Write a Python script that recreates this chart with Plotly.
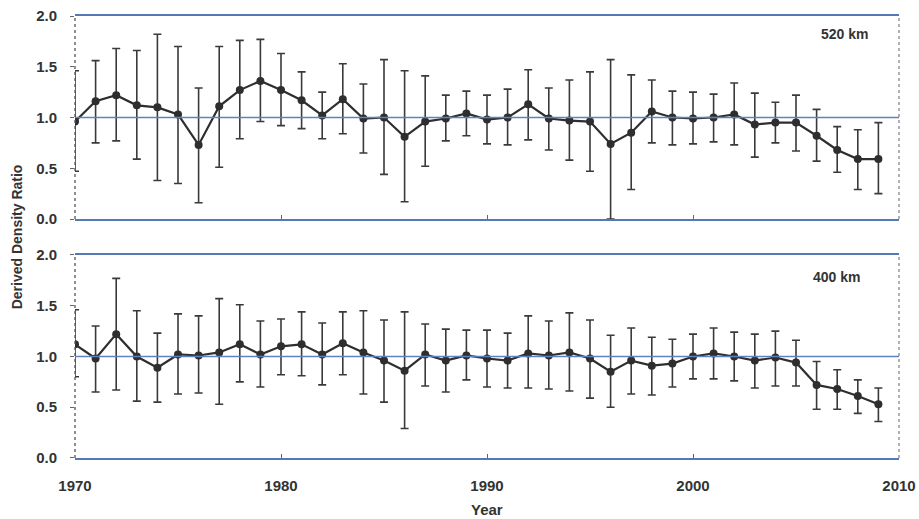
import plotly.graph_objects as go

years = list(range(1970, 2010))

# 520 km panel
top_val = [0.96, 1.16, 1.22, 1.12, 1.10, 1.03, 0.73, 1.11, 1.27, 1.36,
           1.27, 1.17, 1.02, 1.18, 0.99, 1.00, 0.81, 0.96, 0.99, 1.04,
           0.98, 1.00, 1.13, 0.99, 0.97, 0.96, 0.74, 0.85, 1.06, 1.00,
           0.99, 1.00, 1.03, 0.93, 0.95, 0.95, 0.82, 0.68, 0.59, 0.59]
top_hi = [1.46, 1.56, 1.68, 1.66, 1.82, 1.70, 1.29, 1.70, 1.76, 1.77,
          1.63, 1.45, 1.25, 1.53, 1.33, 1.57, 1.46, 1.41, 1.22, 1.26,
          1.22, 1.28, 1.47, 1.29, 1.37, 1.45, 1.57, 1.42, 1.37, 1.26,
          1.25, 1.23, 1.34, 1.24, 1.15, 1.22, 1.08, 0.91, 0.88, 0.95]
top_lo = [0.47, 0.75, 0.77, 0.59, 0.38, 0.35, 0.16, 0.51, 0.79, 0.96,
          0.92, 0.89, 0.79, 0.84, 0.65, 0.44, 0.17, 0.52, 0.77, 0.82,
          0.74, 0.73, 0.78, 0.68, 0.58, 0.47, 0.00, 0.29, 0.75, 0.73,
          0.74, 0.76, 0.73, 0.61, 0.75, 0.67, 0.57, 0.46, 0.29, 0.25]

# 400 km panel
bot_val = [1.12, 0.98, 1.22, 1.00, 0.89, 1.02, 1.01, 1.04, 1.12, 1.02,
           1.10, 1.12, 1.02, 1.13, 1.04, 0.96, 0.86, 1.02, 0.96, 1.01,
           0.98, 0.96, 1.03, 1.01, 1.04, 0.98, 0.85, 0.96, 0.91, 0.93,
           1.00, 1.03, 1.00, 0.96, 0.99, 0.94, 0.72, 0.68, 0.61, 0.53]
bot_hi = [1.46, 1.30, 1.77, 1.45, 1.23, 1.42, 1.40, 1.57, 1.51, 1.35,
          1.37, 1.44, 1.33, 1.44, 1.45, 1.36, 1.44, 1.32, 1.27, 1.26,
          1.26, 1.23, 1.40, 1.35, 1.43, 1.36, 1.21, 1.28, 1.19, 1.17,
          1.22, 1.28, 1.24, 1.22, 1.25, 1.16, 0.95, 0.87, 0.77, 0.69]
bot_lo = [0.80, 0.65, 0.67, 0.56, 0.55, 0.63, 0.64, 0.53, 0.75, 0.70,
          0.82, 0.81, 0.72, 0.82, 0.63, 0.55, 0.29, 0.71, 0.65, 0.77,
          0.70, 0.69, 0.69, 0.68, 0.66, 0.59, 0.50, 0.63, 0.62, 0.70,
          0.78, 0.78, 0.76, 0.69, 0.71, 0.71, 0.48, 0.48, 0.44, 0.36]

panel_labels = ["520 km", "400 km"]
y_ticks = [0.0, 0.5, 1.0, 1.5, 2.0]
x_ticks = [1970, 1980, 1990, 2000, 2010]

DARK = "#2e2e2e"
BLUE = "#5579b3"
FONT = "Liberation Sans, Arial, sans-serif"

fig = go.Figure()


def add_series(vals, hi, lo, xa, ya):
    fig.add_trace(go.Scatter(
        x=years, y=vals, xaxis=xa, yaxis=ya, mode="lines+markers",
        line=dict(color=DARK, width=2.2),
        marker=dict(color=DARK, size=8),
        error_y=dict(type="data", symmetric=False,
                     array=[h - v for h, v in zip(hi, vals)],
                     arrayminus=[v - l for v, l in zip(vals, lo)],
                     color="#3a3a3a", thickness=1.6, width=4),
        showlegend=False, hoverinfo="x+y"))


add_series(top_val, top_hi, top_lo, "x", "y")
add_series(bot_val, bot_hi, bot_lo, "x2", "y2")

tick_font = dict(family=FONT, size=15, color="#333333", weight="bold")

axis_common_x = dict(range=[1970, 2010], tickvals=x_ticks, showgrid=False,
                     zeroline=False, showline=True, mirror=True,
                     linecolor=BLUE, linewidth=1.5, ticks="inside",
                     ticklen=4, tickcolor="#666666", tickfont=tick_font,
                     ticklabelstandoff=13, automargin=False)
axis_common_y = dict(range=[0, 2], tickvals=y_ticks, tickformat=".1f",
                     showgrid=False, zeroline=False, showline=False,
                     ticks="outside", ticklen=4, tickcolor="#666666",
                     tickfont=tick_font, ticklabelstandoff=10, automargin=False)

fig.update_layout(
    width=919, height=519,
    margin=dict(l=75, r=20, t=16, b=61),
    paper_bgcolor="white", plot_bgcolor="white",
    xaxis=dict(axis_common_x, domain=[0, 1], anchor="y", showticklabels=False),
    yaxis=dict(axis_common_y, domain=[0.5407, 1.0], anchor="x"),
    xaxis2=dict(axis_common_x, domain=[0, 1], anchor="y2"),
    yaxis2=dict(axis_common_y, domain=[0, 0.4593], anchor="x2"),
    font=dict(family=FONT, color="#333333"),
)

# reference lines at 1.0 and dotted side borders
for xr, yr in [("x", "y"), ("x2", "y2")]:
    fig.add_shape(type="line", xref=xr + " domain", yref=yr, x0=0, x1=1,
                  y0=1, y1=1, line=dict(color="#5f82bf", width=1.3))
    for xpos, col in [(0, "#555555"), (1, "#888888")]:
        fig.add_shape(type="line", xref=xr + " domain", yref=yr + " domain",
                      x0=xpos, x1=xpos, y0=0, y1=1,
                      line=dict(color=col, width=1.3, dash="dot"))

fig.add_annotation(text=panel_labels[0], xref="x domain", yref="y domain",
                   x=0.965, y=0.91, xanchor="right", yanchor="middle",
                   showarrow=False,
                   font=dict(family=FONT, size=14, color="#333333", weight="bold"))
fig.add_annotation(text=panel_labels[1], xref="x2 domain", yref="y2 domain",
                   x=0.955, y=0.89, xanchor="right", yanchor="middle",
                   showarrow=False,
                   font=dict(family=FONT, size=14, color="#333333", weight="bold"))

fig.add_annotation(text="Derived Density Ratio", xref="paper", yref="paper",
                   x=-0.07, y=0.5, textangle=-90, showarrow=False,
                   xanchor="center", yanchor="middle",
                   font=dict(family=FONT, size=14, color="#333333", weight="bold"))
fig.add_annotation(text="Year", xref="paper", yref="paper",
                   x=0.5, y=-0.1176, showarrow=False,
                   xanchor="center", yanchor="middle",
                   font=dict(family=FONT, size=15, color="#333333", weight="bold"))

fig.write_html("out.html")
